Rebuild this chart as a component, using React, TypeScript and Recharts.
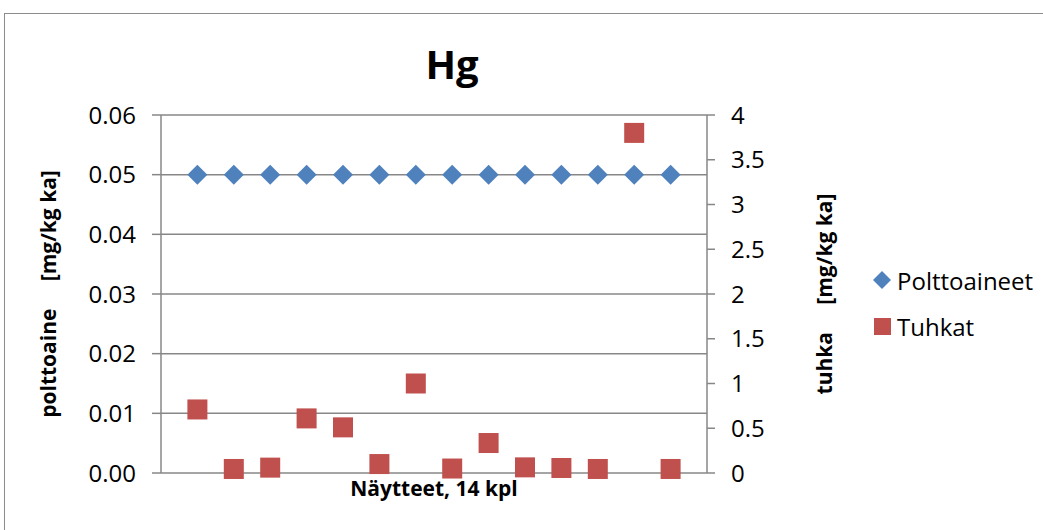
import React from 'react'
import {
  CartesianGrid,
  Legend,
  Scatter,
  ScatterChart,
  XAxis,
  YAxis,
} from 'recharts'

const samples = [1, 2, 3, 4, 5, 6, 7, 8, 9, 10, 11, 12, 13, 14]
const polttoaineet = [0.05, 0.05, 0.05, 0.05, 0.05, 0.05, 0.05, 0.05, 0.05, 0.05, 0.05, 0.05, 0.05, 0.05]
const tuhkat = [0.71, 0.045, 0.06, 0.61, 0.51, 0.1, 1.0, 0.05, 0.335, 0.063, 0.056, 0.045, 3.8, 0.045]
const leftTicks = [0, 0.01, 0.02, 0.03, 0.04, 0.05, 0.06]
const rightTicks = [0, 0.5, 1, 1.5, 2, 2.5, 3, 3.5, 4]

const BLUE = '#4F81BD'
const RED = '#C0504D'
const GRID = '#878787'
const FONT = '"Open Sans", sans-serif'

const fuelData = samples.map((x, i) => ({ x, y: polttoaineet[i] }))
const ashData = samples.map((x, i) => ({ x, y: tuhkat[i] }))

const Diamond = (p: any) => (
  <polygon
    points={`${p.cx - 10},${p.cy} ${p.cx},${p.cy - 10} ${p.cx + 10},${p.cy} ${p.cx},${p.cy + 10}`}
    fill={BLUE}
  />
)

const Square = (p: any) => <rect x={p.cx - 10} y={p.cy - 10} width={20} height={20} fill={RED} />

const axisLabel = (text: string, dx: number) => (props: any) => {
  const { x, y, height } = props.viewBox
  const cx = x + dx
  const cy = y + height / 2
  return (
    <text
      x={cx}
      y={cy}
      transform={`rotate(-90 ${cx} ${cy})`}
      textAnchor="middle"
      dominantBaseline="central"
      style={{ whiteSpace: 'pre', fontFamily: FONT, fontWeight: 700, fontSize: 21, fill: '#000' }}
    >
      {text}
    </text>
  )
}

const LegendBox = () => (
  <div style={{ fontFamily: FONT, fontSize: 24, color: '#000' }}>
    <div style={{ display: 'flex', alignItems: 'center', height: 32 }}>
      <svg width={20} height={20} style={{ marginRight: 5 }}>
        <polygon points="1,10 10,1 19,10 10,19" fill={BLUE} />
      </svg>
      Polttoaineet
    </div>
    <div style={{ display: 'flex', alignItems: 'center', height: 32, marginTop: 14 }}>
      <svg width={20} height={20} style={{ marginRight: 5 }}>
        <rect x={2} y={2} width={17} height={17} fill={RED} />
      </svg>
      Tuhkat
    </div>
  </div>
)

export default function App() {
  return (
    <div style={{ position: 'absolute', left: 0, top: 0, width: 1043, height: 530, overflow: 'hidden', background: '#fff' }}>
      <div style={{ position: 'absolute', left: 4, top: 13, width: 1100, height: 600, border: '1.5px solid #8c8c8c' }} />
      <div
        style={{
          position: 'absolute',
          left: 0,
          width: 904,
          top: 38,
          textAlign: 'center',
          fontFamily: FONT,
          fontWeight: 700,
          fontSize: 40,
          lineHeight: '52px',
        }}
      >
        Hg
      </div>
      <div style={{ position: 'absolute', left: 0, top: 0 }}>
        <ScatterChart width={1043} height={530} margin={{ top: 115, right: 206, left: 0, bottom: 0 }}>
          <CartesianGrid yAxisId="left" vertical={false} stroke={GRID} strokeWidth={1.5} />
          <XAxis
            type="number"
            dataKey="x"
            domain={[0, 15]}
            tick={false}
            axisLine={false}
            tickLine={false}
            height={57}
            label={{
              value: 'Näytteet, 14 kpl',
              position: 'insideTop',
              offset: 8,
              style: { fontFamily: FONT, fontWeight: 700, fontSize: 21, fill: '#000' },
            }}
          />
          <YAxis
            yAxisId="left"
            type="number"
            dataKey="y"
            width={161}
            domain={[0, 0.06]}
            ticks={leftTicks}
            tickFormatter={v => v.toFixed(2)}
            tick={{ fontFamily: FONT, fontSize: 24, fill: '#000' }}
            tickSize={9}
            tickMargin={16}
            stroke={GRID}
            strokeWidth={1.5}
            label={axisLabel('polttoaine     [mg/kg ka]', 48)}
          />
          <YAxis
            yAxisId="right"
            orientation="right"
            type="number"
            dataKey="y"
            width={130}
            domain={[0, 4]}
            ticks={rightTicks}
            tick={{ fontFamily: FONT, fontSize: 24, fill: '#000' }}
            tickSize={8}
            tickMargin={16}
            stroke={GRID}
            strokeWidth={1.5}
            label={axisLabel('tuhka     [mg/kg ka]', 117)}
          />
          <Legend
            layout="vertical"
            align="center"
            verticalAlign="middle"
            wrapperStyle={{ left: 872, top: 264, width: 170 }}
            content={() => <LegendBox />}
          />
          <Scatter name="Polttoaineet" data={fuelData} yAxisId="left" shape={Diamond} isAnimationActive={false} />
          <Scatter name="Tuhkat" data={ashData} yAxisId="right" shape={Square} isAnimationActive={false} />
        </ScatterChart>
      </div>
    </div>
  )
}
